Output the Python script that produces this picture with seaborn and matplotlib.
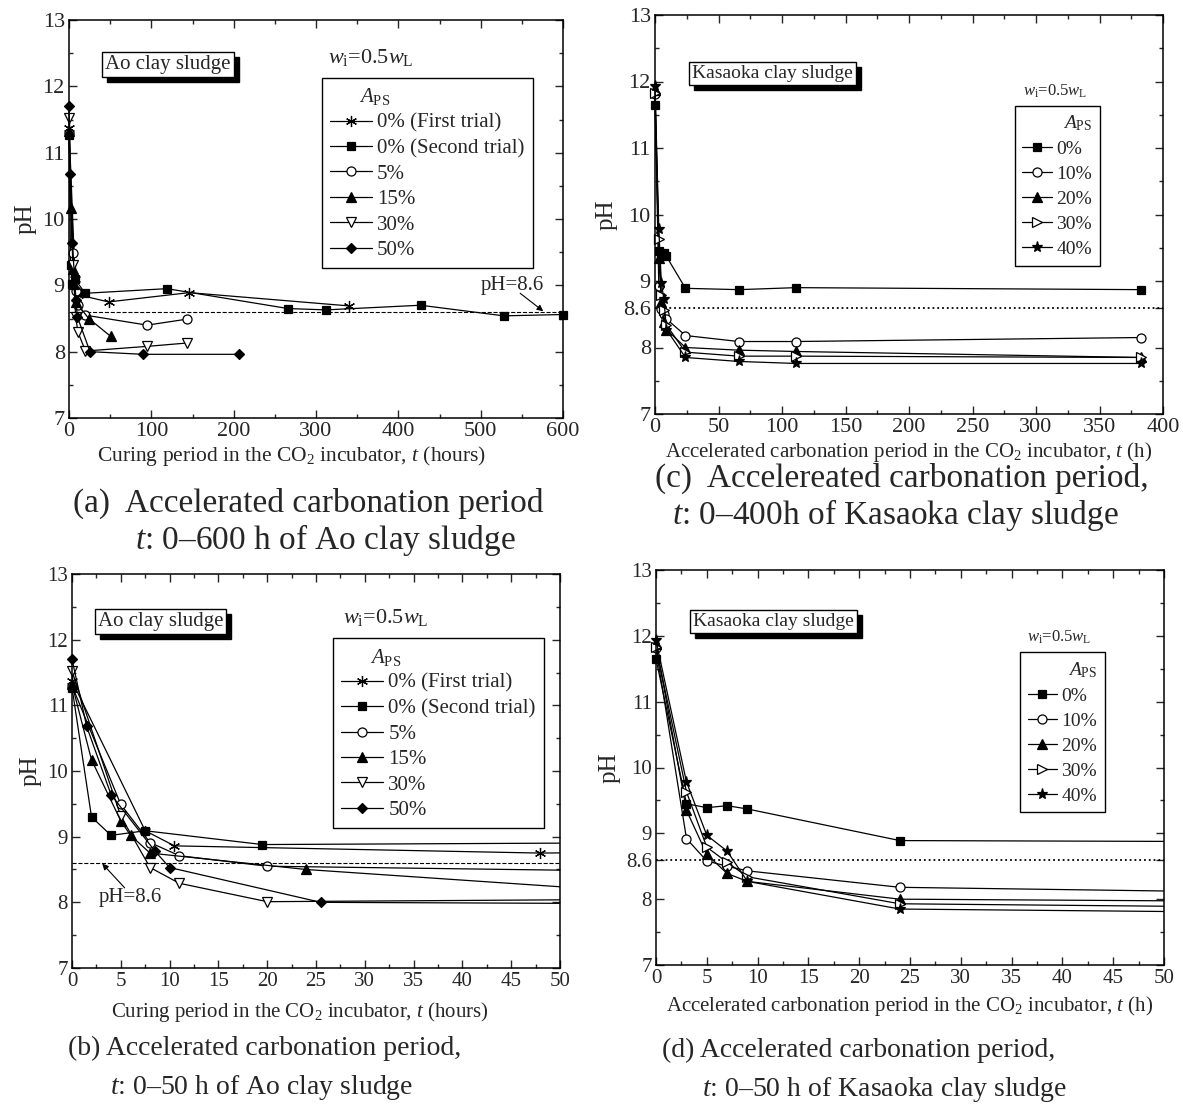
import numpy as np
import pandas as pd
import matplotlib
matplotlib.use('Agg')
import matplotlib.pyplot as plt
import seaborn as sns
from matplotlib.patches import Rectangle
from matplotlib.ticker import MultipleLocator, FixedLocator
from matplotlib import transforms

# ---- Ao clay sludge (panels a, b) ----
ao_labels = ['0% (First trial)', '0% (Second trial)', '5%', '15%', '30%', '50%']
ao_t = [
    [0, 7.5, 10.5, 48, 146, 340],
    [0, 2, 4, 7.5, 19.5, 119, 266, 312, 427, 528, 600],
    [0, 5, 8, 11, 20, 95, 143],
    [0, 2, 5, 6, 8, 24, 50.7],
    [0, 5, 8, 11, 20, 95, 143],
    [0, 1.5, 4, 8.5, 10, 25.5, 90, 207],
]
ao_ph = [
    [11.37, 9.09, 8.86, 8.75, 8.89, 8.69],
    [11.27, 9.30, 9.02, 9.09, 8.88, 8.95, 8.65, 8.63, 8.70, 8.54, 8.56],
    [11.30, 9.49, 8.91, 8.71, 8.55, 8.40, 8.49],
    [11.32, 10.17, 9.24, 9.02, 8.75, 8.50, 8.23],
    [11.52, 9.31, 8.53, 8.29, 8.01, 8.08, 8.13],
    [11.70, 10.68, 9.64, 8.78, 8.53, 8.00, 7.96, 7.96],
]

# ---- Kasaoka clay sludge (panels c, d) ----
ka_labels = ['0%', '10%', '20%', '30%', '40%']
ka_t = [0, 3, 5, 7, 9, 24, 66, 111, 383]
ka_ph = [
    [11.65, 9.45, 9.39, 9.42, 9.37, 8.89, 8.87, 8.90, 8.87],
    [11.81, 8.92, 8.58, 8.50, 8.43, 8.18, 8.09, 8.09, 8.15],
    [11.87, 9.35, 8.68, 8.39, 8.27, 8.00, 7.96, 7.94, 7.85],
    [11.83, 9.63, 8.79, 8.56, 8.34, 7.93, 7.87, 7.87, 7.85],
    [11.93, 9.78, 8.97, 8.73, 8.27, 7.85, 7.79, 7.76, 7.76],
]

# marker styles: (marker, filled, size)
ao_marks = [((6, 2, 0), True, 8), ('s', True, 5.5), ('o', False, 6.5),
            ('^', True, 6.5), ('v', False, 6.5), ('D', True, 5.5)]
ka_marks = [('s', True, 5.5), ('o', False, 6.5), ('^', True, 6.5),
            ('>', False, 6.5), ('*', True, 8)]

sns.set_style('ticks')
plt.rcParams['font.family'] = ['Liberation Serif', 'DejaVu Serif']
plt.rcParams['mathtext.fontset'] = 'custom'
plt.rcParams['mathtext.rm'] = 'Liberation Serif'
plt.rcParams['mathtext.it'] = 'Liberation Serif:italic'
plt.rcParams['axes.linewidth'] = 1.1

W, H = 1183, 1106
fig = plt.figure(figsize=(W / 100, H / 100), dpi=100)


def px_axes(l, t, r, b):
    return fig.add_axes([l / W, 1 - b / H, (r - l) / W, (b - t) / H])


ax_a = px_axes(69, 20, 563, 418)
ax_c = px_axes(655, 15, 1163, 414)
ax_b = px_axes(72, 574, 560, 968)
ax_d = px_axes(656, 570, 1164, 965)


def draw_series(ax, ts, phs, labels, marks, right_pad):
    for t, ph, lab, (mk, filled, ms) in zip(ts, phs, labels, marks):
        sns.lineplot(x=t, y=ph, ax=ax, color='black', lw=0.9, marker=mk,
                     markersize=ms, markerfacecolor='black' if filled else 'white',
                     markeredgecolor='black', markeredgewidth=0.9,
                     label=lab, sort=False, estimator=None)
        line = ax.lines[-1]
        # open on the left so markers at t=0 are not cut by the spine
        line.set_clip_path(Rectangle((-0.03, -0.03), 1.03 + right_pad, 1.06,
                                     transform=ax.transAxes))


def style_axes(ax, xmax, xmaj, xmin, xlabel, fs_tick, fs_label, lab_x, lab_pad,
               special86=False):
    ax.set_xlim(0, xmax)
    ax.set_ylim(7, 13)
    ax.xaxis.set_major_locator(MultipleLocator(xmaj))
    ax.xaxis.set_minor_locator(MultipleLocator(xmin))
    if special86:
        ax.yaxis.set_major_locator(FixedLocator([7, 8, 8.6, 9, 10, 11, 12, 13]))
        ax.set_yticklabels(['7', '8', '8.6', '9', '10', '11', '12', '13'])
        ax.yaxis.set_minor_locator(FixedLocator([7.5, 9.5, 10.5, 11.5, 12.5]))
    else:
        ax.yaxis.set_major_locator(MultipleLocator(1))
        ax.yaxis.set_minor_locator(MultipleLocator(0.5))
    ax.tick_params(which='both', direction='in', top=True, right=True,
                   width=1, labelsize=fs_tick, pad=3)
    ax.tick_params(which='major', length=6)
    ax.tick_params(which='minor', length=3)
    ax.set_xlabel(xlabel, fontsize=fs_label, labelpad=lab_pad)
    ax.xaxis.label.set_x(lab_x)
    ax.set_ylabel('pH', fontsize=18, labelpad=4)
    for sp in ax.spines.values():
        sp.set_visible(True)
        sp.set_color('black')


boxes = []


def sample_box(ax, x, y, text, size):
    t = ax.text(x, y, text, transform=ax.transAxes, fontsize=size, va='center',
                bbox=dict(boxstyle='square,pad=0.15', fc='white', ec='black', lw=1),
                zorder=7)
    boxes.append((ax, t))


def legend_box(ax, anchor, fs, align, title, hl, spacing):
    h, l = ax.get_legend_handles_labels()
    leg = ax.legend(h, l, title=title, loc='upper right', bbox_to_anchor=anchor,
                    fontsize=fs, title_fontsize=fs, frameon=True, fancybox=False,
                    edgecolor='black', framealpha=1, handlelength=hl, handletextpad=0.25,
                    labelspacing=spacing, borderpad=0.4, borderaxespad=0)
    leg.get_frame().set_linewidth(1)
    leg._legend_box.align = align


xl_ao = r'Curing period in the CO$_2$ incubator, $t$ (hours)'
xl_ka = r'Accelerated carbonation period in the CO$_2$ incubator, $t$ (h)'
wi_txt = r'$w_{\rm i}$=0.5$w_{\rm L}$'

# panel a
draw_series(ax_a, ao_t, ao_ph, ao_labels, ao_marks, 0.03)
ax_a.axhline(8.6, ls='--', color='black', lw=0.8, zorder=1)
style_axes(ax_a, 600, 100, 50, xl_ao, 16, 15.5, 0.45, 2)
legend_box(ax_a, (0.939, 0.854), 15, 'left', r'$\qquad A_{\rm PS}$', 2.0, 0.28)
sample_box(ax_a, 0.073, 0.888, 'Ao clay sludge', 15)
ax_a.text(0.524, 0.905, wi_txt, transform=ax_a.transAxes, fontsize=16, va='center')
ax_a.text(539, 8.99, 'pH=8.6', fontsize=15, ha='center', va='center')
ax_a.annotate('', xy=(576, 8.61), xytext=(548, 8.88),
              arrowprops=dict(arrowstyle='-|>', color='black', lw=0.8,
                              shrinkA=0, shrinkB=0, mutation_scale=9))

# panel b
draw_series(ax_b, ao_t, ao_ph, ao_labels, ao_marks, 0.0)
ax_b.axhline(8.6, ls='--', color='black', lw=0.8, zorder=1)
style_axes(ax_b, 50, 5, 2.5, xl_ao, 15, 15, 0.467, 6)
legend_box(ax_b, (0.967, 0.837), 15, 'left', r'$\qquad A_{\rm PS}$', 2.0, 0.28)
sample_box(ax_b, 0.053, 0.88, 'Ao clay sludge', 15)
ax_b.text(0.556, 0.89, wi_txt, transform=ax_b.transAxes, fontsize=16, va='center')
ax_b.text(6.0, 8.07, 'pH=8.6', fontsize=15, ha='center', va='center')
ax_b.annotate('', xy=(3.1, 8.59), xytext=(5.4, 8.22),
              arrowprops=dict(arrowstyle='-|>', color='black', lw=0.8,
                              shrinkA=0, shrinkB=0, mutation_scale=9))

# panel c
draw_series(ax_c, [ka_t] * 5, ka_ph, ka_labels, ka_marks, 0.03)
ax_c.axhline(8.6, ls=':', color='black', lw=1.3, zorder=1)
style_axes(ax_c, 400, 50, 25, xl_ka, 16, 15, 0.5, 2, special86=True)
legend_box(ax_c, (0.876, 0.773), 14, 'right', r'$A_{\rm PS}$', 1.5, 0.38)
sample_box(ax_c, 0.073, 0.854, 'Kasaoka clay sludge', 14)
ax_c.text(0.725, 0.81, wi_txt, transform=ax_c.transAxes, fontsize=12, va='center')

# panel d
draw_series(ax_d, [ka_t] * 5, ka_ph, ka_labels, ka_marks, 0.0)
ax_d.axhline(8.6, ls=':', color='black', lw=1.3, zorder=1)
style_axes(ax_d, 50, 5, 2.5, xl_ka, 15, 15, 0.5, 4, special86=True)
legend_box(ax_d, (0.884, 0.792), 14, 'right', r'$A_{\rm PS}$', 1.5, 0.38)
sample_box(ax_d, 0.073, 0.87, 'Kasaoka clay sludge', 14)
ax_d.text(0.73, 0.83, wi_txt, transform=ax_d.transAxes, fontsize=12, va='center')

# captions
captions = [
    (73, 503, '(a)  Accelerated carbonation period', 24),
    (135, 540, r'$t$: 0–600 h of Ao clay sludge', 24),
    (68, 1048, '(b) Accelerated carbonation period,', 20),
    (110, 1088, r'$t$: 0–50 h of Ao clay sludge', 20),
    (655, 478, '(c)  Accelereated carbonation period,', 24),
    (672, 515, r'$t$: 0–400h of Kasaoka clay sludge', 24),
    (662, 1050, '(d) Accelerated carbonation period,', 20),
    (702, 1090, r'$t$: 0–50 h of Kasaoka clay sludge', 20),
]
for x, y, s, fs in captions:
    fig.text(x / W, 1 - y / H, s, fontsize=fs, ha='left', va='center')

# black drop shadow behind the sample name boxes
fig.canvas.draw()
for ax, t in boxes:
    bb = t.get_bbox_patch().get_window_extent()
    ax.add_patch(Rectangle((bb.x0 + 5, bb.y0 - 5), bb.width, bb.height,
                           transform=transforms.IdentityTransform(), fc='black',
                           ec='black', clip_on=False, zorder=6))

fig.savefig('out.png', dpi=100, facecolor='white')
